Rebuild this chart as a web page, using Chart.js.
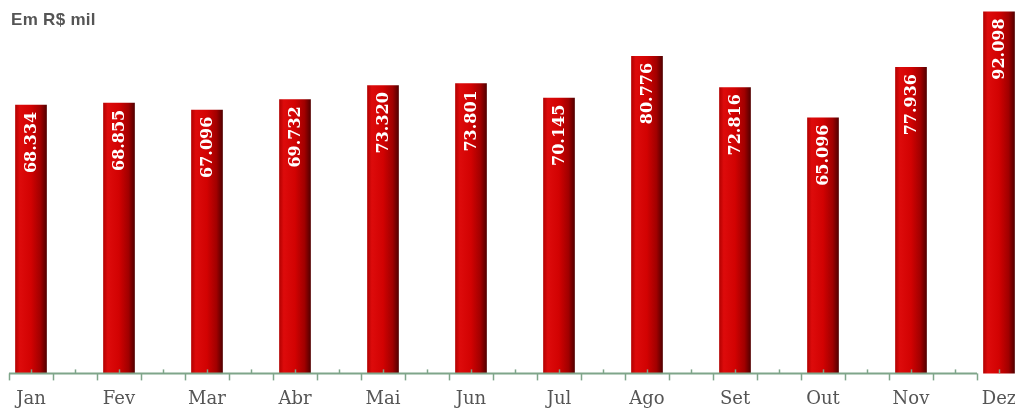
<!DOCTYPE html>
<html>
<head>
<meta charset="utf-8">
<script src="https://cdn.jsdelivr.net/npm/chart.js@4.4.0/dist/chart.umd.min.js"></script>
<style>
    html, body { margin: 0; padding: 0; background: #fff; overflow: hidden; }
    #wrap { position: relative; width: 1015px; height: 425px; }
    #unit {
        position: absolute; left: 11px; top: 10px; line-height: 22px;
        font: bold 17px "Liberation Sans", Arial, sans-serif; color: #555;
        letter-spacing: 0.3px;
    }
</style>
</head>
<body>
<div id="wrap">
    <canvas id="chartFaturamento"></canvas>
    <div id="unit">Em R$ mil</div>
</div>
<script>
const meses = ["Jan", "Fev", "Mar", "Abr", "Mai", "Jun", "Jul", "Ago", "Set", "Out", "Nov", "Dez"];
const valores = [68334, 68855, 67096, 69732, 73320, 73801, 70145, 80776, 72816, 65096, 77936, 92098];

// 68334 -> "68.334"
function formatBR(v) {
    return String(v).replace(/\B(?=(\d{3})+(?!\d))/g, ".");
}

// gradiente horizontal em cada barra (efeito cilindro)
function barGradient(context) {
    const chart = context.chart;
    const x = chart.scales.x;
    if (!x || context.dataIndex === undefined) return "#c00000";
    const cx = x.getPixelForValue(context.dataIndex);
    if (!isFinite(cx)) return "#c00000";
    const half = 16;
    const g = chart.ctx.createLinearGradient(cx - half, 0, cx + half, 0);
    g.addColorStop(0, "#b00000");
    g.addColorStop(0.15, "#dd0b0b");
    g.addColorStop(0.5, "#d20202");
    g.addColorStop(0.8, "#a00000");
    g.addColorStop(1, "#4e0000");
    return g;
}

// eixo x com os tracinhos em cima e embaixo
const eixoPlugin = {
    id: "eixo",
    afterDatasetsDraw(chart) {
        const ctx = chart.ctx;
        const x = chart.scales.x;
        const y0 = chart.chartArea.bottom;
        ctx.save();
        ctx.strokeStyle = "#7fa58a";
        ctx.lineWidth = 2;
        ctx.beginPath();
        ctx.moveTo(x.getPixelForValue(-0.25), y0);
        ctx.lineTo(x.getPixelForValue(10.75), y0);
        ctx.stroke();
        ctx.lineWidth = 1.5;
        for (let k = 0; k <= 22; k++) {
            const xd = Math.round(x.getPixelForValue(-0.25 + k * 0.5)) + 0.5;
            ctx.beginPath();
            ctx.moveTo(xd, y0);
            ctx.lineTo(xd, y0 + 7);
            ctx.stroke();
            const xu = Math.round(x.getPixelForValue(k * 0.5)) + 0.5;
            ctx.beginPath();
            ctx.moveTo(xu, y0);
            ctx.lineTo(xu, y0 - 4);
            ctx.stroke();
        }
        ctx.restore();
    },
};

// valores escritos na vertical dentro das barras
const rotuloPlugin = {
    id: "rotulos",
    afterDatasetsDraw(chart) {
        const ctx = chart.ctx;
        const meta = chart.getDatasetMeta(0);
        ctx.save();
        ctx.fillStyle = "#ffffff";
        ctx.font = "bold 16px 'DejaVu Serif', serif";
        ctx.textAlign = "right";
        ctx.textBaseline = "middle";
        meta.data.forEach((bar, i) => {
            ctx.save();
            ctx.translate(bar.x + 1, bar.y + 7);
            ctx.rotate(-Math.PI / 2);
            ctx.fillText(formatBR(valores[i]), 0, 0);
            ctx.restore();
        });
        ctx.restore();
    },
};

new Chart(document.getElementById("chartFaturamento"), {
    type: "bar",
    data: {
        labels: meses,
        datasets: [
            {
                label: "Faturamento",
                data: valores,
                backgroundColor: barGradient,
                borderWidth: 0,
                categoryPercentage: 1,
                barPercentage: 0.36,
                clip: false,
            },
        ],
    },
    options: {
        responsive: true,
        maintainAspectRatio: false,
        animation: false,
        layout: {
            padding: { left: 31, right: 16, top: 0, bottom: 0 },
        },
        plugins: {
            legend: { display: false },
            tooltip: { enabled: false },
        },
        scales: {
            x: {
                offset: false,
                grid: { display: false, drawTicks: false },
                border: { display: false },
                afterFit(scale) {
                    scale.paddingLeft = 0;
                    scale.paddingRight = 0;
                },
                ticks: {
                    padding: 15,
                    color: "#555555",
                    font: { family: "'DejaVu Serif', serif", size: 18 },
                    maxRotation: 0,
                    autoSkip: false,
                },
            },
            y: {
                display: false,
                min: 0,
                max: 95000,
            },
        },
    },
    plugins: [eixoPlugin, rotuloPlugin],
});
</script>
</body>
</html>
